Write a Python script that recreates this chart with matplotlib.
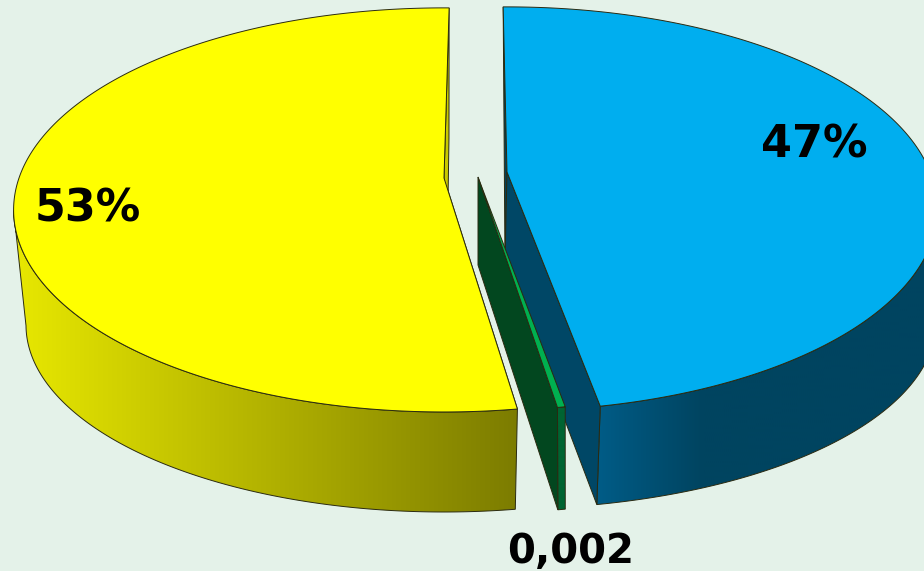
import numpy as np
import matplotlib
matplotlib.use("Agg")
import matplotlib.pyplot as plt
from matplotlib.patches import Polygon

# data
names = ["Blue", "Green", "Yellow"]
values = [47.2, 0.25, 52.55]
labels = ["47%", "0,002", "53%"]

BG = "#E4F2E9"
START = 90.6
K = 0.158
TOP_A, TOP_B = 425, 197
LOW_B = 187
# exploded placement of each slice in the view
apex_top = {"Blue": (507, 172), "Green": (478, 177), "Yellow": (444, 178)}
rim_dy = {"Blue": 5, "Green": 0, "Yellow": 0}
apex_low = {"Blue": (505, 262), "Green": (478, 265), "Yellow": (447, 266)}
low_centre = {"Blue": (503, 322), "Green": (481, 326), "Yellow": (444, 325)}
low_a = {"Blue": 433, "Green": 416, "Yellow": 418}
rotate = {"Blue": 0, "Green": -0.7, "Yellow": -1.4}
top_col = {"Blue": "#00AEEF", "Green": "#00B050", "Yellow": "#FFFF00"}
cut_col = {"Blue": "#004766", "Green": "#02471F", "Yellow": "#C9C900"}
back_col = {"Blue": "#034058", "Yellow": "#C9C900"}
side_cols = {"Blue": [(0, 92, 135), (0, 68, 96)],
             "Green": [(0, 100, 50), (0, 100, 50)],
             "Yellow": [(232, 232, 0), (124, 124, 0)]}
side_reach = {"Blue": 0.31, "Green": 1.0, "Yellow": 1.0}
EDGE = "#2a2a10"
LW = 0.7


def rim_top(theta, n):
    t = np.radians(theta)
    u, v = np.cos(t), np.sin(t)
    ax_, ay_ = apex_top[n]
    return np.column_stack([ax_ + TOP_A * u / (1 + K * v),
                            ay_ + rim_dy[n] - TOP_B * v / (1 + K * v)])


def rim_low(theta, n):
    t = np.radians(theta)
    u, v = np.cos(t), np.sin(t)
    d = 1 + K * v
    c = u * np.sqrt(1 - K ** 2) / d
    s = (v + K) / d
    cx, cy = low_centre[n]
    return np.column_stack([cx + low_a[n] * c, cy - LOW_B * s])


fig = plt.figure(figsize=(9.24, 5.71), dpi=100, facecolor=BG)
ax = fig.add_axes([0, 0, 1, 1])
ax.set_axis_off()

deg = 360 * np.array(values) / sum(values)
ends = START - np.cumsum(deg)
starts = ends + deg
slices = {n: (s + rotate[n], e + rotate[n]) for n, s, e in zip(names, starts, ends)}
z = {"Blue": 1, "Green": 2, "Yellow": 3}


def draw_slice(n):
    s, e = slices[n]
    th = np.linspace(s, e, 500)
    at, al = apex_top[n], apex_low[n]
    rt, rl = rim_top(th, n), rim_low(th, n)
    vis = np.sin(np.radians(th)) <= -K
    side_xy = np.vstack([rt[vis], rl[vis][::-1]])

    # outer side, horizontal gradient clipped to its outline
    x0, x1 = side_xy[:, 0].min(), side_xy[:, 0].max()
    c0, c1 = np.array(side_cols[n], float) / 255
    w = np.clip(np.linspace(0, 1, 512) / side_reach[n], 0, 1)[:, None]
    grad = (c0[None, :] * (1 - w) + c1[None, :] * w)[None, :, :]
    im = ax.imshow(grad, extent=(x0, x1, 571, 0), aspect="auto", zorder=z[n], interpolation="bilinear")
    im.set_clip_path(Polygon(side_xy, closed=True, transform=ax.transData))
    ax.add_patch(Polygon(side_xy, closed=True, fc="none", ec=EDGE, lw=LW, zorder=z[n] + 0.1))

    # back sliver and front cut face
    if n in back_col:
        ax.add_patch(Polygon([rt[0], at, al], closed=True, fc=back_col[n], ec=EDGE, lw=LW, zorder=z[n] + 0.2))
    ax.add_patch(Polygon([at, rt[-1], rl[-1], al], closed=True, fc=cut_col[n], ec=EDGE, lw=LW, zorder=z[n] + 0.2))

    # top face
    ax.add_patch(Polygon(np.vstack([[at], rt]), closed=True, fc=top_col[n], ec=EDGE, lw=LW, zorder=z[n] + 0.3))


for n in names:
    draw_slice(n)

ax.set_xlim(0, 924)
ax.set_ylim(571, 0)

lab_pos = {"Blue": (814, 158), "Green": (571, 563), "Yellow": (88, 222)}
lab_size = {"Blue": 32, "Green": 29, "Yellow": 32}
for n, lab in zip(names, labels):
    ax.text(*lab_pos[n], lab, ha="center", va="baseline", fontsize=lab_size[n], fontweight="bold",
            color="black", family="DejaVu Sans", zorder=10)

fig.savefig("out.png", dpi=100, facecolor=BG)
